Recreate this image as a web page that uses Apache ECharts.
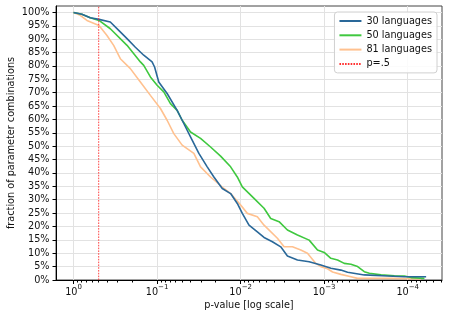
<!DOCTYPE html>
<html>
<head>
<meta charset="utf-8">
<script src="https://cdn.jsdelivr.net/npm/echarts@6/dist/echarts.min.js"></script>
<style>html,body{margin:0;padding:0;background:#fff}#c{width:449px;height:319px}</style>
</head>
<body>
<div id="c"></div>
<script>
// x values are -log10(p-value), y values are % of parameter combinations
const seriesNames = ['30 languages', '50 languages', '81 languages'];
const x30 = [0, 0.10, 0.20, 0.305, 0.44, 0.55, 0.64, 0.74, 0.84, 0.94, 0.97, 1.02, 1.12, 1.24, 1.30, 1.40, 1.50, 1.60, 1.68, 1.78, 1.88, 1.96, 2.02, 2.10, 2.20, 2.28, 2.38, 2.48, 2.56, 2.68, 2.82, 2.96, 3.08, 3.20, 3.28, 3.48, 3.76, 3.96, 4.22];
const y30 = [100, 99.3, 98, 97.4, 96.4, 93, 90.2, 87, 84, 81.5, 79.6, 74, 69.7, 63.4, 59.7, 53.5, 47.3, 42.3, 38.5, 34.2, 32.3, 28.6, 24.9, 20.5, 18, 15.9, 14.3, 12.4, 9, 7.5, 6.8, 5.6, 4.4, 3.7, 2.9, 1.9, 1.5, 1.2, 1.2];
const x50 = [0, 0.10, 0.20, 0.305, 0.44, 0.64, 0.80, 0.84, 0.92, 1.00, 1.08, 1.16, 1.24, 1.30, 1.40, 1.52, 1.64, 1.76, 1.88, 1.96, 2.02, 2.16, 2.28, 2.36, 2.46, 2.56, 2.68, 2.82, 2.92, 3.00, 3.08, 3.16, 3.24, 3.32, 3.40, 3.48, 3.54, 3.68, 3.84, 3.96, 4.04, 4.20];
const y50 = [100, 99.3, 98, 97, 93.9, 87.7, 81.5, 80.2, 75.9, 72.8, 70.3, 65.9, 63.4, 59.7, 55.3, 52.9, 49.7, 46.3, 42.3, 38.5, 34.8, 30.5, 26.8, 23, 21.8, 18.7, 16.8, 14.9, 11.2, 10.3, 8.1, 7.5, 6.2, 5.9, 5, 3.1, 2.5, 1.9, 1.6, 1.5, 0.9, 0.6];
const x81 = [0, 0.08, 0.16, 0.305, 0.40, 0.48, 0.56, 0.68, 0.80, 0.92, 1.04, 1.12, 1.20, 1.30, 1.44, 1.52, 1.64, 1.80, 1.88, 2.00, 2.08, 2.20, 2.28, 2.44, 2.52, 2.62, 2.72, 2.80, 2.90, 2.96, 3.04, 3.10, 3.20, 3.32, 3.40, 3.80, 4.16];
const y81 = [100, 98.9, 97, 95.1, 91.4, 87.7, 82.7, 79, 74, 69, 64.1, 59.7, 54.7, 50.4, 47.3, 42.3, 38.5, 34.2, 32.3, 28, 24.9, 23.6, 20.5, 15.6, 12.4, 12.4, 11.2, 10, 6.2, 5, 4.2, 3, 2.1, 1.2, 0.6, 0.6, 0.4];
const pThreshold = 0.5;
const thresholdName = 'p=.5';
const xTickExps = [0, 1, 2, 3, 4];
const yTicks = [0,5,10,15,20,25,30,35,40,45,50,55,60,65,70,75,80,85,90,95,100];

const X_MIN = -0.21, X_MAX = 4.41, Y_MIN = 0, Y_MAX = 102.4;
const font = 'DejaVu Sans';
const colors = ['#2a6899', '#3fc83f', '#ffc18f'];

// minor log ticks (2..9 x 10^-k)
const minorTicks = [];
for (let k = 0; k <= 5; k++) {
  for (let m = 2; m <= 9; m++) {
    const v = k - Math.log10(m);
    if (v > X_MIN && v < X_MAX) minorTicks.push(v);
  }
}

const zip = (xs, ys) => xs.map((x, i) => [x, ys[i]]);
const tx = -Math.log10(pThreshold);

const chart = echarts.init(document.getElementById('c'), null, {renderer: 'canvas'});
chart.setOption({
  animation: false,
  backgroundColor: '#fff',
  textStyle: {fontFamily: font},
  grid: {left: 56, right: 7, top: 6, bottom: 39, containLabel: false, outerBoundsMode: 'none', show: true, borderColor: '#444', borderWidth: 1, backgroundColor: 'transparent'},
  legend: {
    orient: 'vertical', right: 12, top: 12,
    itemWidth: 22, itemHeight: 10, itemGap: 4.3,
    padding: [4, 5, 4, 4],
    backgroundColor: 'rgba(255,255,255,0.85)',
    borderColor: '#d0d0d0', borderWidth: 1, borderRadius: 3,
    itemStyle: {color: 'rgba(0,0,0,0)', borderColor: 'rgba(0,0,0,0)', borderWidth: 0, opacity: 0},
    textStyle: {fontFamily: font, fontSize: 9.7, color: '#111'},
    data: [seriesNames[0], seriesNames[1], seriesNames[2], thresholdName]
  },
  xAxis: [{
    type: 'value', min: X_MIN, max: X_MAX,
    name: 'p-value [log scale]', nameLocation: 'middle', nameGap: 20, nameMoveOverlap: false,
    nameTextStyle: {fontFamily: font, fontSize: 9.7, color: '#111'},
    axisLine: {show: true, onZero: false, lineStyle: {color: '#000', width: 1}},
    axisTick: {show: true, customValues: xTickExps, length: 4, lineStyle: {color: '#000'}},
    axisLabel: {
      customValues: xTickExps, margin: 4,
      formatter: v => {
        const e = Math.round(v);
        return '{b|10}{s|' + (e === 0 ? '0' : '\u2212' + e) + '}';
      },
      rich: {
        b: {fontFamily: font, fontSize: 9.7, color: '#111', lineHeight: 13, verticalAlign: 'bottom'},
        s: {fontFamily: font, fontSize: 7, color: '#111', lineHeight: 13, verticalAlign: 'top'}
      }
    },
    splitLine: {show: true, lineStyle: {color: '#e2e2e2', width: 1}}
  }, {
    type: 'value', min: X_MIN, max: X_MAX, position: 'bottom',
    axisLine: {show: false, onZero: false}, axisLabel: {show: false}, splitLine: {show: false},
    axisTick: {show: true, customValues: minorTicks, length: 2.5, lineStyle: {color: '#000', width: 1}}
  }],
  yAxis: {
    type: 'value', min: Y_MIN, max: Y_MAX,
    name: 'fraction of parameter combinations', nameLocation: 'middle', nameGap: 40, nameMoveOverlap: false,
    nameTextStyle: {fontFamily: font, fontSize: 9.7, color: '#111'},
    axisLine: {show: true, onZero: false, lineStyle: {color: '#000', width: 1}},
    axisTick: {show: true, customValues: yTicks, length: 3.5, lineStyle: {color: '#000'}},
    axisLabel: {customValues: yTicks, margin: 6.5, fontFamily: font, fontSize: 9.7, color: '#111', formatter: v => Math.round(v) + '%'},
    splitLine: {show: true, lineStyle: {color: '#e2e2e2', width: 1}}
  },
  series: [
    {name: seriesNames[0], type: 'line', data: zip(x30, y30), showSymbol: false, symbol: 'none', lineStyle: {color: colors[0], width: 1.6}, itemStyle: {color: colors[0]}, z: 4},
    {name: seriesNames[1], type: 'line', data: zip(x50, y50), showSymbol: false, symbol: 'none', lineStyle: {color: colors[1], width: 1.6}, itemStyle: {color: colors[1]}, z: 3},
    {name: seriesNames[2], type: 'line', data: zip(x81, y81), showSymbol: false, symbol: 'none', lineStyle: {color: colors[2], width: 1.6}, itemStyle: {color: colors[2]}, z: 2},
    {name: thresholdName, type: 'line', data: [[tx, Y_MIN], [tx, Y_MAX]], showSymbol: false, symbol: 'none', lineStyle: {color: '#ff3030', width: 0.9, type: [1.6, 1.2]}, itemStyle: {color: '#ff3030'}, z: 5}
  ]
});
</script>
</body>
</html>
